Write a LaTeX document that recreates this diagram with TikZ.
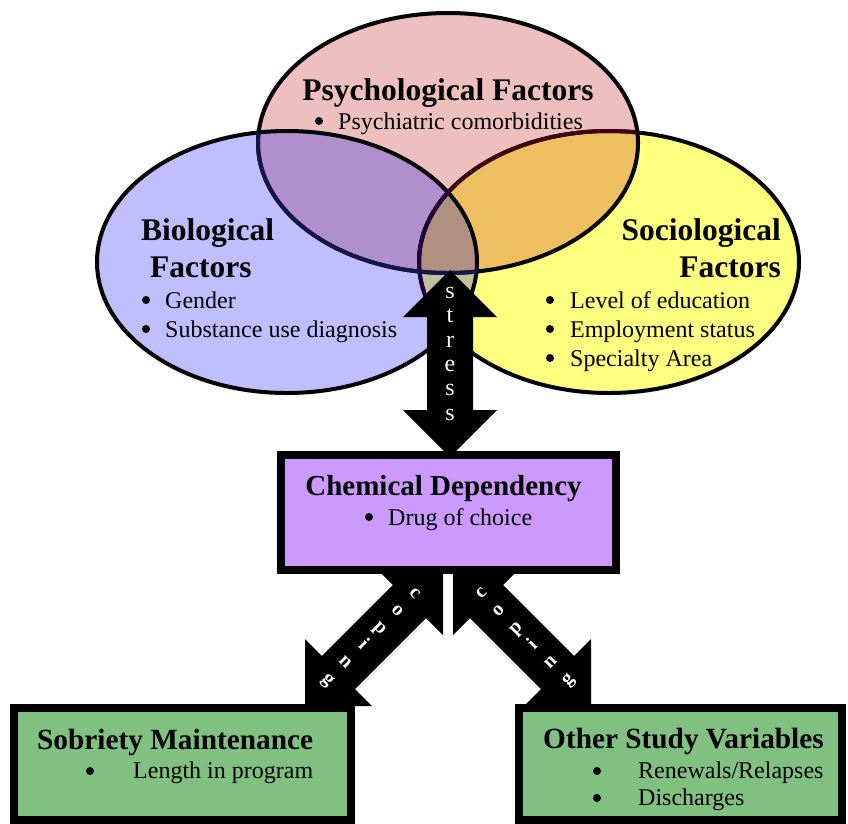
\documentclass[tikz,border=0pt]{standalone}
\usepackage{fontspec}
\setmainfont{Liberation Serif}
\definecolor{bioC}{HTML}{BFBFFF}
\definecolor{psyC}{HTML}{EDBFBF}
\definecolor{socC}{HTML}{FFFF80}
\definecolor{bpC}{HTML}{B18FCC}
\definecolor{psC}{HTML}{EDBF60}
\definecolor{bsC}{HTML}{C0C0A0}
\definecolor{allC}{HTML}{B09080}
\definecolor{chemC}{HTML}{CC99FF}
\definecolor{greenC}{HTML}{80C080}
\definecolor{navyL}{HTML}{15154A}
\definecolor{purpL}{HTML}{200040}
\definecolor{marL}{HTML}{400010}
\begin{document}
\begin{tikzpicture}[x=1pt,y=-1pt,
  ttl/.style={inner sep=0pt, font=\fontsize{31.5}{36}\selectfont\bfseries},
  ttlb/.style={inner sep=0pt, font=\fontsize{29.3}{34}\selectfont\bfseries},
  body/.style={inner sep=0pt, anchor=base west, font=\fontsize{24}{28}\selectfont},
  bul/.style={circle, fill=black, inner sep=0pt, minimum size=8pt},
  ring/.style={line width=4pt},
  blockarrow/.style={fill=black},
  abox/.style={draw=black, line width=8pt},
  slet/.style={inner sep=0pt, anchor=mid, text=white, font=\fontsize{24}{28}\selectfont},
  clet/.style={inner sep=0pt, anchor=mid, text=white, font=\fontsize{20}{24}\selectfont\bfseries}]

\useasboundingbox (0,0) rectangle (848,823);
\fill[white] (0,0) rectangle (848,823);

% ellipse fills
\fill[bioC] (287,262) ellipse [x radius=190pt, y radius=131pt];
\fill[socC] (609,262) ellipse [x radius=190pt, y radius=131pt];
\fill[psyC] (448,143) ellipse [x radius=190pt, y radius=130pt];
\begin{scope}
  \clip (287,262) ellipse [x radius=190pt, y radius=131pt];
  \fill[bsC] (609,262) ellipse [x radius=190pt, y radius=131pt];
  \fill[bpC] (448,143) ellipse [x radius=190pt, y radius=130pt];
\end{scope}
\begin{scope}
  \clip (609,262) ellipse [x radius=190pt, y radius=131pt];
  \fill[psC] (448,143) ellipse [x radius=190pt, y radius=130pt];
\end{scope}
\begin{scope}
  \clip (287,262) ellipse [x radius=190pt, y radius=131pt];
  \clip (609,262) ellipse [x radius=190pt, y radius=131pt];
  \fill[allC] (448,143) ellipse [x radius=190pt, y radius=130pt];
\end{scope}

% outlines
\draw[ring] (287,262) ellipse [x radius=190pt, y radius=131pt];
\draw[ring] (609,262) ellipse [x radius=190pt, y radius=131pt];
\draw[ring] (448,143) ellipse [x radius=190pt, y radius=130pt];
\begin{scope}
  \clip (448,143) ellipse [x radius=190pt, y radius=130pt];
  \draw[ring, marL] (609,262) ellipse [x radius=190pt, y radius=131pt];
\end{scope}
\begin{scope}
  \clip (287,262) ellipse [x radius=190pt, y radius=131pt];
  \draw[ring, purpL] (609,262) ellipse [x radius=190pt, y radius=131pt];
  \draw[ring, navyL] (448,143) ellipse [x radius=190pt, y radius=130pt];
\end{scope}

% stress arrow
\fill[blockarrow] (450,270) -- (497,317) -- (473,317) -- (473,410) -- (497,410)
  -- (450,457) -- (403,410) -- (427,410) -- (427,317) -- (403,317) -- cycle;
\foreach \ch [count=\k from 0] in {s,t,r,e,s,s}
  \node[slet] (st\k) at (450,296+24.4*\k) {\ch};

% coping arrows
\fill[blockarrow] (443,568) -- (443,635) -- (426.1,618.1) -- (355.1,689.1) -- (372,706)
  -- (305,706) -- (305,639) -- (321.9,655.9) -- (392.9,584.9) -- (376,568) -- cycle;
\fill[blockarrow] (453,568) -- (453,635) -- (469.9,618.1) -- (540.9,689.1) -- (524,706)
  -- (591,706) -- (591,639) -- (574.1,655.9) -- (503.1,584.9) -- (520,568) -- cycle;
\foreach \ch/\px/\py [count=\k] in {c/413.2/594.8, o/395.9/612.2, p/378.5/629.5, i/361.2/646.9, n/343.8/664.2, g/326.5/681.6}
  \node[clet, rotate=-45] (cl\k) at (\px,\py) {\ch};
\foreach \ch/\px/\py [count=\k] in {c/482.8/594.8, o/500.1/612.2, p/517.5/629.5, i/534.8/646.9, n/552.2/664.2, g/569.5/681.6}
  \node[clet, rotate=45] (cr\k) at (\px,\py) {\ch};

% boxes
\filldraw[abox, fill=chemC] (281,455) rectangle (616,570);
\filldraw[abox, fill=greenC] (14,707.5) rectangle (351,819.5);
\filldraw[abox, fill=greenC] (519,707.5) rectangle (842,819.5);

% texts: circles
\node[ttl, anchor=base] (psyT) at (448,100) {Psychological Factors};
\node[bul] (psyB1) at (319,121) {};
\node[body] (psyL1) at (338,129) {Psychiatric comorbidities};

\node[ttl, anchor=base west] (bioT1) at (141,240) {Biological};
\node[ttl, anchor=base west] (bioT2) at (150,277) {Factors};
\node[bul] (bioB1) at (146,300) {};
\node[body] (bioL1) at (165,308) {Gender};
\node[bul] (bioB2) at (146,329) {};
\node[body] (bioL2) at (165,337) {Substance use diagnosis};

\node[ttl, anchor=base east] (socT1) at (781,240) {Sociological};
\node[ttl, anchor=base east] (socT2) at (781,277) {Factors};
\node[bul] (socB1) at (550,300) {};
\node[body] (socL1) at (570,308) {Level of education};
\node[bul] (socB2) at (550,329) {};
\node[body] (socL2) at (570,337) {Employment status};
\node[bul] (socB3) at (550,358) {};
\node[body] (socL3) at (570,366) {Specialty Area};

% texts: boxes
\node[ttlb, anchor=base, font=\fontsize{29}{34}\selectfont\bfseries] (chemT) at (443.5,495) {Chemical Dependency};
\node[bul] (chemB) at (369,517) {};
\node[body] (chemL) at (388,525) {Drug of choice};

\node[ttlb, anchor=base west] (sobT) at (37,749) {Sobriety Maintenance};
\node[bul] (sobB) at (90,771) {};
\node[body] (sobL) at (133,778) {Length in program};

\node[ttlb, anchor=base west] (othT) at (543,748) {Other Study Variables};
\node[bul] (othB1) at (597,771) {};
\node[body] (othL1) at (638,778) {Renewals/Relapses};
\node[bul] (othB2) at (597,798) {};
\node[body] (othL2) at (638,805) {Discharges};
\end{tikzpicture}
\end{document}
